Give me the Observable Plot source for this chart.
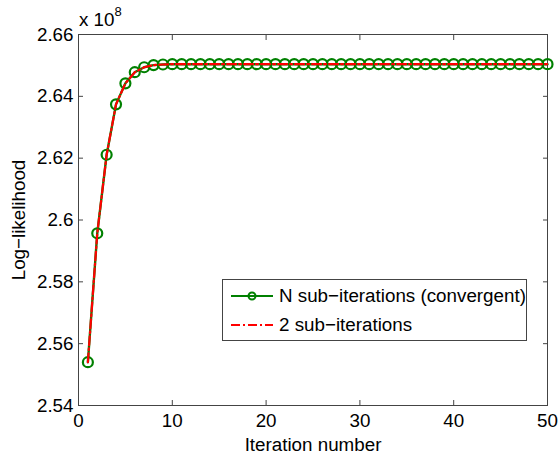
<!DOCTYPE html>
<html>
<head>
<meta charset="utf-8">
<script src="https://cdn.jsdelivr.net/npm/d3@7"></script>
<script src="https://cdn.jsdelivr.net/npm/@observablehq/plot@0.6"></script>
<style>
  body { margin: 0; background: #fff; }
  #wrap { position: relative; width: 558px; height: 456px; font-family: "Liberation Sans", Arial, sans-serif; }
  #legend { position: absolute; left: 222px; top: 279px; width: 303px; height: 60px; border: 1px solid #444; background: #fff; font-size: 18.8px; color: #000; }
  .row { position: absolute; left: 8px; height: 24px; display: flex; align-items: center; white-space: nowrap; }
  .row svg { margin-right: 6px; }
  #expo { position: absolute; left: 79px; top: 7px; font-size: 18.8px; }
  #expo sup { font-size: 13px; position: relative; top: -3px; }
</style>
</head>
<body>
<div id="wrap">
  <div id="chart"></div>
  <div id="expo">x 10<sup>8</sup></div>
  <div id="legend"></div>
</div>
<script>
const iterations = [1,2,3,4,5,6,7,8,9,10,11,12,13,14,15,16,17,18,19,20,21,22,23,24,25,26,27,28,29,30,31,32,33,34,35,36,37,38,39,40,41,42,43,44,45,46,47,48,49,50];
const nSubIter = [2.5540,2.5957,2.6211,2.6374,2.6442,2.6478,2.6494,2.6501,2.6503,2.6504,2.6504,2.6504,2.6504,2.6504,2.6504,2.6504,2.6504,2.6504,2.6504,2.6504,2.6504,2.6504,2.6504,2.6504,2.6504,2.6504,2.6504,2.6504,2.6504,2.6504,2.6504,2.6504,2.6504,2.6504,2.6504,2.6504,2.6504,2.6504,2.6504,2.6504,2.6504,2.6504,2.6504,2.6504,2.6504,2.6504,2.6504,2.6504,2.6504,2.6504];
const twoSubIter = [2.5540,2.5957,2.6211,2.6374,2.6442,2.6478,2.6494,2.6501,2.6503,2.6504,2.6504,2.6504,2.6504,2.6504,2.6504,2.6504,2.6504,2.6504,2.6504,2.6504,2.6504,2.6504,2.6504,2.6504,2.6504,2.6504,2.6504,2.6504,2.6504,2.6504,2.6504,2.6504,2.6504,2.6504,2.6504,2.6504,2.6504,2.6504,2.6504,2.6504,2.6504,2.6504,2.6504,2.6504,2.6504,2.6504,2.6504,2.6504,2.6504,2.6504];
const xTicks = [0,10,20,30,40,50];
const yTicks = [2.54,2.56,2.58,2.6,2.62,2.64,2.66];
const yTickLabels = ["2.54","2.56","2.58","2.6","2.62","2.64","2.66"];
const seriesNames = ["N sub\u2212iterations (convergent)", "2 sub\u2212iterations"];
const xLabel = "Iteration number";
const yLabel = "Log\u2212likelihood";

const green = "#008000", red = "#ff0000", axisColor = "#444";
const dataN = iterations.map((x, i) => ({x, y: nSubIter[i]}));
const data2 = iterations.map((x, i) => ({x, y: twoSubIter[i]}));

const chart = Plot.plot({
  width: 558, height: 456,
  marginLeft: 78, marginRight: 11, marginTop: 34, marginBottom: 51,
  style: {fontFamily: "'Liberation Sans', Arial, sans-serif", fontSize: "18.8px", color: "#000", background: "#fff"},
  x: {domain: [0, 50]},
  y: {domain: [2.54, 2.66]},
  marks: [
    Plot.frame({stroke: axisColor}),
    Plot.axisX(xTicks, {anchor: "bottom", tickSize: -5, tickPadding: 13, stroke: axisColor, label: xLabel, labelAnchor: "center", labelArrow: "none", labelOffset: 45, fill: "#000"}),
    Plot.axisX(xTicks, {anchor: "top", tickSize: -5, tickFormat: () => "", stroke: axisColor, label: null}),
    Plot.axisY(yTicks, {anchor: "left", tickSize: -5, tickPadding: 10, stroke: axisColor, tickFormat: (d) => yTickLabels[yTicks.indexOf(d)], label: yLabel, labelAnchor: "center", labelArrow: "none", labelOffset: 67, fill: "#000"}),
    Plot.axisY(yTicks, {anchor: "right", tickSize: -5, tickFormat: () => "", stroke: axisColor, label: null}),
    Plot.line(dataN, {x: "x", y: "y", stroke: green, strokeWidth: 2.4}),
    Plot.dot(dataN, {x: "x", y: "y", r: 5, stroke: green, strokeWidth: 2.2, fill: "none"}),
    Plot.line(data2, {x: "x", y: "y", stroke: red, strokeWidth: 2.2, strokeDasharray: "9,3,2,3"})
  ]
});
document.getElementById("chart").appendChild(chart);

const legend = document.getElementById("legend");
legend.innerHTML = `
  <div class="row" style="top:4px"><svg width="42" height="14"><line x1="0" y1="7" x2="42" y2="7" stroke="${green}" stroke-width="2.2"/><circle cx="21" cy="7" r="3.5" fill="none" stroke="${green}" stroke-width="2"/></svg><span>${seriesNames[0]}</span></div>
  <div class="row" style="top:33px"><svg width="42" height="14"><line x1="0" y1="7" x2="42" y2="7" stroke="${red}" stroke-width="2.2" stroke-dasharray="9,3,2,3"/></svg><span>${seriesNames[1]}</span></div>`;
</script>
</body>
</html>
